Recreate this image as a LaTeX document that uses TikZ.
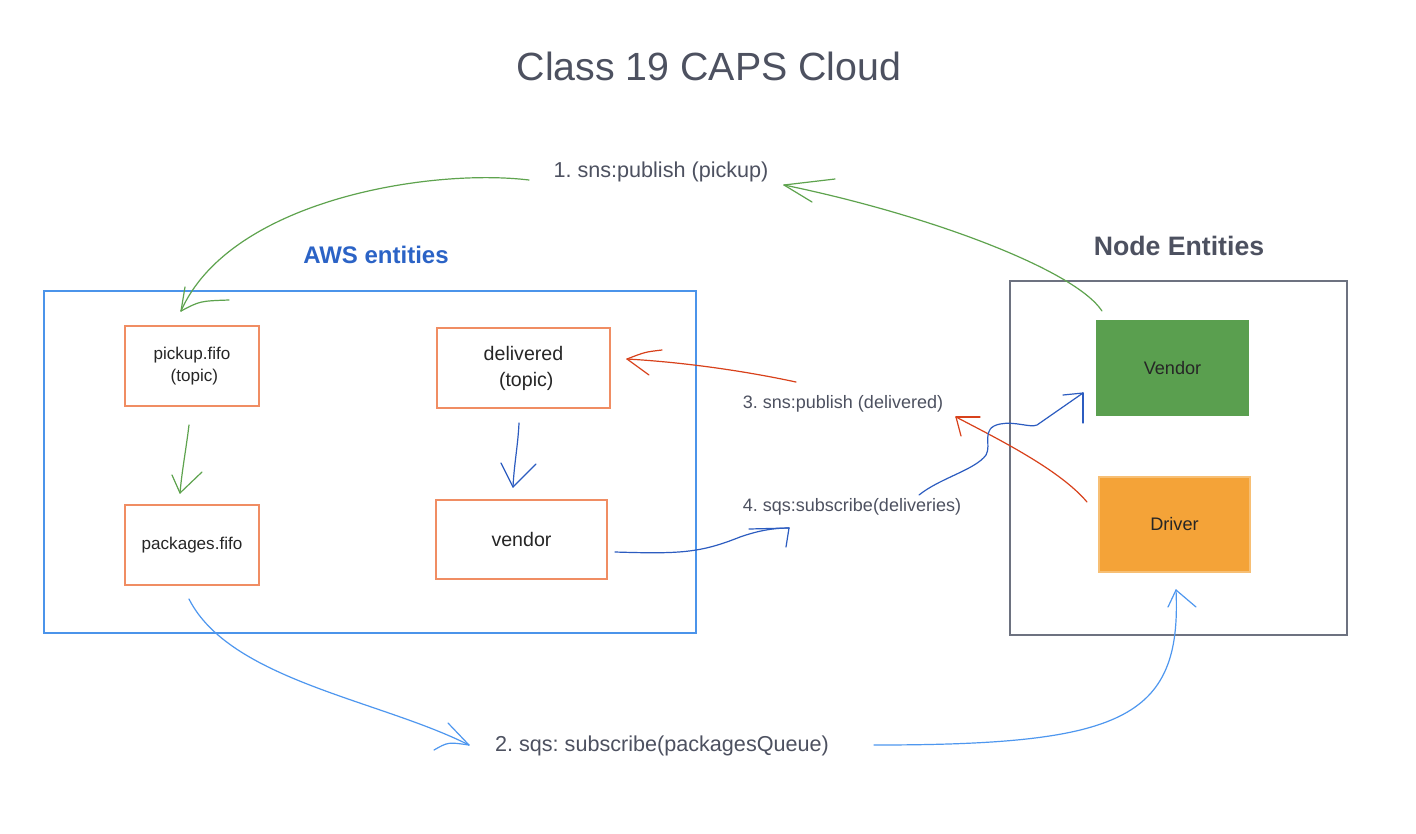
\documentclass[tikz,border=0pt]{standalone}
\usepackage{fontspec}
\setmainfont{Liberation Sans}
\definecolor{titlegray}{HTML}{4D5160}
\definecolor{awstext}{HTML}{2B63C6}
\definecolor{awsborder}{HTML}{4B94EA}
\definecolor{nodeborder}{HTML}{6D7280}
\definecolor{qorange}{HTML}{F08D63}
\definecolor{vgreen}{HTML}{5A9F4F}
\definecolor{dorange}{HTML}{F4A338}
\definecolor{agreen}{HTML}{5EA34E}
\definecolor{ared}{HTML}{D8411B}
\definecolor{adblue}{HTML}{2C5CC0}
\definecolor{alblue}{HTML}{4E97EF}
\begin{document}
\frenchspacing
\begin{tikzpicture}[x=0.75pt,y=-0.75pt,
  lbl/.style={font=\fontsize{16.2}{19}\selectfont, text=titlegray, inner sep=0pt},
  lblsmall/.style={font=\fontsize{13.5}{16}\selectfont, text=titlegray, inner sep=0pt},
  qbox/.style={draw=qorange, line width=0.9pt, align=center, text=black!85},
  smallq/.style={font=\fontsize{12.8}{16.5}\selectfont},
  bigq/.style={font=\fontsize{14.7}{19.5}\selectfont},
  ent/.style={line width=1pt, font=\fontsize{13.6}{16}\selectfont, text=black!85},
  hand/.style={line width=0.9pt, line cap=round, line join=round}]
\useasboundingbox (0,0) rectangle (1416,833);
\fill[white] (0,0) rectangle (1416,833);

% titles
\node[text=titlegray, font=\fontsize{29.5}{35}\selectfont] (title) at (709,66) {Class 19 CAPS Cloud};
\node[text=awstext, font=\fontsize{18}{22}\selectfont\bfseries] (awst) at (376,255) {AWS entities};
\node[text=titlegray, font=\fontsize{20}{24}\selectfont\bfseries] (nodet) at (1179,246) {Node Entities};

% containers
\node[draw=awsborder, line width=1.1pt, minimum width=489pt, minimum height=256.5pt, inner sep=0pt] (aws) at (370,462) {};
\node[draw=nodeborder, line width=1.3pt, minimum width=252.75pt, minimum height=265.5pt, inner sep=0pt] (nodebox) at (1178.5,458) {};

% AWS boxes
\node[qbox, smallq, minimum width=100.5pt, minimum height=60pt] (pickup) at (192,366) {pickup.fifo\\\ (topic)};
\node[qbox, bigq, minimum width=129.75pt, minimum height=60pt] (delivered) at (523.5,368) {delivered\\\ (topic)};
\node[qbox, smallq, minimum width=100.5pt, minimum height=60pt] (packages) at (192,545) {packages.fifo};
\node[qbox, bigq, minimum width=128.25pt, minimum height=59.25pt] (vendorq) at (521.5,539.5) {vendor};

% Node entities
\node[ent, fill=vgreen, draw=vgreen, minimum width=113.25pt, minimum height=70.5pt] (vendor) at (1172.5,368) {Vendor};
\node[ent, fill=dorange, draw=dorange!70!white, minimum width=113.25pt, minimum height=71.25pt] (driver) at (1174.5,524.5) {Driver};

% labels
\node[lbl] (lab1) at (661,172) {1. sns:publish (pickup)};
\node[lblsmall] (lab3) at (843,404) {3. sns:publish (delivered)};
\node[lblsmall] (lab4) at (852,507) {4. sqs:subscribe(deliveries)};
\node[lbl] (lab2) at (662,746) {2. sqs: subscribe(packagesQueue)};

% connector end points
\coordinate (s1) at (529,180);  \coordinate (t1) at (181,311);
\coordinate (s2) at (189,425);  \coordinate (t2) at (180,493);
\coordinate (s3) at (519,423);  \coordinate (t3) at (513,487);
\coordinate (s4) at (1102,311); \coordinate (t4) at (784,185);
\coordinate (s5) at (796,382);  \coordinate (t5) at (627,359);
\coordinate (s6) at (1087,502); \coordinate (t6) at (956,417);
\coordinate (s7) at (919,495);  \coordinate (t7) at (1083,393);
\coordinate (s8) at (615,552);  \coordinate (t8) at (789,528);
\coordinate (s9) at (189,599);  \coordinate (t9) at (469,745);
\coordinate (s10) at (874,745); \coordinate (t10) at (1176,590);

% 1. green: lab1 -> pickup
\draw[hand, agreen] (s1) .. controls (430,168) and (230,200) .. (t1);
\draw[hand, agreen] (t1) -- ++(4,-24);
\draw[hand, agreen] (t1) .. controls (200,301) .. ++(48,-11);
% pickup -> packages
\draw[hand, agreen] (s2) .. controls (186,450) and (182,470) .. (t2);
\draw[hand, agreen] (t2) -- ++(-8,-18);
\draw[hand, agreen] (t2) -- ++(22,-21);
% delivered -> vendor queue
\draw[hand, adblue] (s3) .. controls (518,445) and (514,465) .. (t3);
\draw[hand, adblue] (t3) -- ++(-12,-24);
\draw[hand, adblue] (t3) -- ++(23,-23);
% Vendor -> lab1
\draw[hand, agreen] (s4) .. controls (1075,270) and (930,215) .. (t4);
\draw[hand, agreen] (t4) -- ++(51,-6);
\draw[hand, agreen] (t4) -- ++(28,17);
% lab3 -> delivered
\draw[hand, ared] (s5) .. controls (740,370) and (680,362) .. (t5);
\draw[hand, ared] (t5) .. controls (645,352) .. ++(35,-9);
\draw[hand, ared] (t5) -- ++(22,16);
% Driver -> lab3
\draw[hand, ared] (s6) .. controls (1060,470) and (1000,440) .. (t6);
\draw[hand, ared] (t6) -- ++(24,0);
\draw[hand, ared] (t6) -- ++(5,19);
% lab4 -> Vendor
\draw[hand, adblue] (s7) .. controls (940,478) and (975,470) .. (986,455)
  .. controls (992,445) and (980,428) .. (1000,424)
  .. controls (1015,421) and (1030,428) .. (1037,425) -- (t7);
\draw[hand, adblue] (t7) -- ++(-20,2);
\draw[hand, adblue] (t7) -- ++(0,30);
% vendor queue -> lab4
\draw[hand, adblue] (s8) .. controls (680,554) and (700,553) .. (740,537)
  .. controls (760,530) and (775,528) .. (t8);
\draw[hand, adblue] (t8) -- ++(-40,1);
\draw[hand, adblue] (t8) -- ++(-3,19);
% packages -> lab2
\draw[hand, alblue] (s9) .. controls (230,680) and (380,700) .. (t9);
\draw[hand, alblue] (t9) -- ++(-21,-22);
\draw[hand, alblue] (t9) .. controls (448,742) .. ++(-35,5);
% lab2 -> Driver
\draw[hand, alblue] (s10) .. controls (1120,745) and (1182,720) .. (t10);
\draw[hand, alblue] (t10) -- ++(-8,17);
\draw[hand, alblue] (t10) -- ++(20,17);
\end{tikzpicture}
\end{document}
